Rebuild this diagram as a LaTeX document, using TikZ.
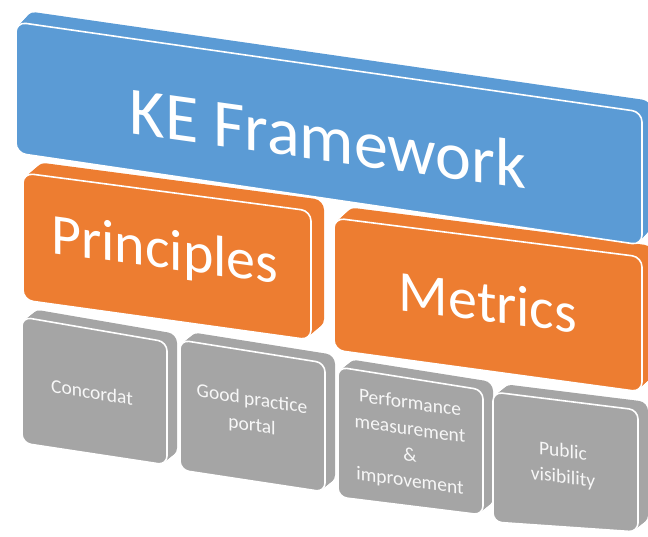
\documentclass[tikz,border=0pt]{standalone}
\usepackage{fontspec}
\setmainfont{Carlito}
\definecolor{keblue}{HTML}{5B9BD5}
\definecolor{keorange}{HTML}{ED7D31}
\definecolor{kegray}{HTML}{A5A5A5}

% A slab seen in perspective: front face given by its four corners
% (TL, TR, BR, BL), extruded backwards by the offset (dx, dy).
\newcommand\keslab[8]{%
  \foreach \k in {1.0,0.9,...,0.05}{%
    \fill[#1, rounded corners=#8, shift={({\k*#6},{\k*#7})}]
      #2 -- #3 -- #4 -- #5 -- cycle;
  }
  \filldraw[#1, draw=white, line width=1.6pt, rounded corners=#8]
    #2 -- #3 -- #4 -- #5 -- cycle;
}

\tikzset{
  bigtext/.style={text=white, inner sep=0pt, font=\fontsize{68}{72}\selectfont},
  midtext/.style={text=white, inner sep=0pt, font=\fontsize{58}{60}\selectfont},
  smalltext/.style={text=white!94!gray, inner sep=0pt, align=center,
                    font=\fontsize{19.5}{26}\selectfont},
}

\begin{document}
\begin{tikzpicture}[x=1pt,y=-1pt]
\useasboundingbox (0,0) rectangle (648,536);
\clip (0,0) rectangle (648,536);

% bottom row (grey)
\keslab{kegray}{(22,317)}{(167,342)}{(167,465)}{(22,443)}{10}{-8}{9pt}
\keslab{kegray}{(180,340)}{(325,363)}{(325,492)}{(180,470)}{10}{-8}{9pt}
\keslab{kegray}{(338,367)}{(483,390)}{(483,515)}{(338,497)}{10}{-8}{9pt}
\keslab{kegray}{(493,392)}{(638,410)}{(638,532)}{(493,522)}{10}{-8}{9pt}

% middle row (orange)
\keslab{keorange}{(23,173)}{(311,211)}{(311,340)}{(23,300)}{13}{-11}{10pt}
\keslab{keorange}{(334,218)}{(642,257)}{(642,392)}{(334,350)}{12}{-11}{10pt}

% top slab (blue)
\keslab{keblue}{(16,22)}{(642,112)}{(642,245)}{(16,153)}{10}{-11}{10pt}

% labels
\node[bigtext, yslant=-0.14] (ke) at (328,138) {KE Framework};
\node[midtext, yslant=-0.135] (pr) at (165,253) {Principles};
\node[midtext, yslant=-0.125] (me) at (488,302) {Metrics};
\node[smalltext, yslant=-0.16] (co) at (92,392) {Concordat};
\node[smalltext, yslant=-0.155] (gp) at (252,413) {Good practice\\portal};
\node[smalltext, yslant=-0.14] (pm) at (410,443) {Performance\\measurement\\\&\\improvement};
\node[smalltext, yslant=-0.125] (pv) at (563,465) {Public\\visibility};
\end{tikzpicture}
\end{document}
